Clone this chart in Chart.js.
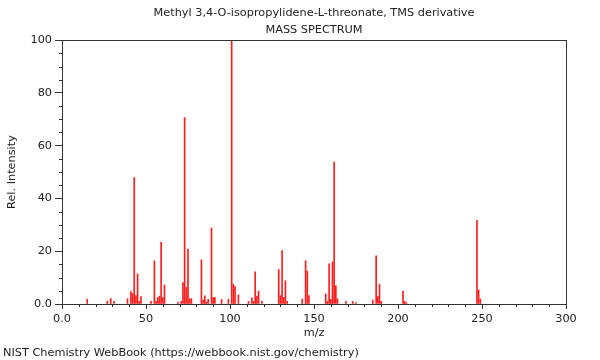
<!DOCTYPE html>
<html>
<head>
<meta charset="utf-8">
<script src="https://cdn.jsdelivr.net/npm/chart.js@4/dist/chart.umd.min.js"></script>
<style>
  html, body { margin: 0; padding: 0; background: #fff; }
  #wrap { position: relative; width: 600px; height: 360px; }
  #footer { position: absolute; left: 3px; top: 346px; font: 11.3px "DejaVu Sans"; color: #222; white-space: nowrap; }
</style>
</head>
<body>
<div id="wrap">
  <canvas id="chart" width="600" height="360"></canvas>
  <div id="footer">NIST Chemistry WebBook (https://webbook.nist.gov/chemistry)</div>
</div>
<script>
// Espectro de masas
const titulo = 'Methyl 3,4-O-isopropylidene-L-threonate, TMS derivative';
const subtitulo = 'MASS SPECTRUM';

const mz = [15, 27, 29, 31, 39, 41, 42, 43, 44, 45, 46, 47, 53, 55, 56, 57, 58, 59, 60, 61,
  69, 71, 72, 73, 74, 75, 76, 77, 83, 84, 85, 86, 87, 89, 90, 91, 95, 99, 101, 102,
  103, 105, 111, 113, 114, 115, 116, 117, 119, 129, 130, 131, 132, 133, 134, 143, 145, 146, 147, 157,
  158, 159, 160, 161, 162, 163, 164, 169, 173, 175, 185, 187, 188, 189, 190, 203, 204, 205, 247, 248,
  249];
const intensidad = [1.8, 1.1, 2.1, 1.0, 2.0, 4.7, 4.0, 47.9, 3.2, 11.4, 1.0, 2.8, 1.0, 16.4, 1.0, 2.4, 3.0, 23.4, 2.4, 7.2,
  0.6, 1.0, 8.1, 70.6, 6.3, 20.8, 2.0, 2.0, 16.7, 1.5, 3.1, 0.7, 1.8, 28.8, 2.5, 2.4, 1.7, 1.8, 100, 7.5,
  6.6, 3.4, 1.0, 2.3, 1.0, 12.2, 3.0, 4.9, 1.0, 13.1, 3.2, 20.2, 2.5, 8.8, 1.0, 1.8, 16.4, 12.5, 3.2, 3.8,
  1.0, 15.2, 1.8, 15.9, 53.8, 6.9, 2.0, 1.0, 1.0, 0.5, 1.5, 18.3, 2.8, 7.4, 1.0, 4.9, 1.0, 0.5, 31.7, 5.3,
  1.9];

const xTicks = [0, 50, 100, 150, 200, 250, 300];
const yTicks = [0, 20, 40, 60, 80, 100];

const fuente = { family: 'DejaVu Sans', size: 11.3 };
const gris = '#333';

// ── marco + ticks menores ──────────────────────────────────────────────
const marco = {
  id: 'marco',
  afterDraw(chart) {
    const { ctx, chartArea: a, scales } = chart;
    ctx.save();
    ctx.strokeStyle = gris;
    ctx.lineWidth = 1;
    ctx.strokeRect(Math.round(a.left) + 0.5, Math.round(a.top) + 0.5,
      Math.round(a.right - a.left), Math.round(a.bottom - a.top));
    ctx.beginPath();
    for (let v = 0; v <= 300; v += 10) {
      if (v % 50 === 0) continue;
      const px = Math.round(scales.x.getPixelForValue(v)) + 0.5;
      ctx.moveTo(px, a.bottom);
      ctx.lineTo(px, a.bottom + 3);
    }
    for (let v = 0; v <= 100; v += 5) {
      if (v % 20 === 0) continue;
      const py = Math.round(scales.y.getPixelForValue(v)) + 0.5;
      ctx.moveTo(a.left - 3, py);
      ctx.lineTo(a.left, py);
    }
    ctx.stroke();
    ctx.restore();
  }
};

const ctx = document.getElementById('chart').getContext('2d');
new Chart(ctx, {
  type: 'bar',
  data: {
    datasets: [{
      data: mz.map((m, i) => ({ x: m, y: intensidad[i] })),
      backgroundColor: 'rgb(255,30,30)',
      borderWidth: 0,
      barThickness: 1
    }]
  },
  options: {
    responsive: false,
    animation: false,
    layout: { padding: { left: 0, right: 34, top: 0, bottom: 20 } },
    plugins: {
      legend: { display: false },
      tooltip: { enabled: false },
      title: {
        display: true, text: titulo, fullSize: false, color: '#222',
        font: { ...fuente, weight: 'normal' }, padding: { top: 6, bottom: 2 }
      },
      subtitle: {
        display: true, text: subtitulo, fullSize: false, color: '#222',
        font: fuente, padding: { top: 2, bottom: 3 }
      }
    },
    scales: {
      x: {
        type: 'linear', min: 0, max: 300, offset: false,
        afterFit: s => { s.height = 36; },
        afterBuildTicks: s => { s.ticks = xTicks.map(v => ({ value: v })); },
        ticks: { color: '#222', font: fuente, padding: 3, maxRotation: 0, autoSkip: false,
          callback: v => v === 0 ? '0.0' : String(v) },
        grid: { drawOnChartArea: false, offset: false, tickLength: 5, tickColor: gris },
        border: { color: gris },
        title: { display: true, text: 'm/z', color: '#222', font: fuente, padding: { top: 0, bottom: 0 } }
      },
      y: {
        min: 0, max: 100,
        afterFit: s => { s.width = 62; },
        afterBuildTicks: s => { s.ticks = yTicks.map(v => ({ value: v })); },
        ticks: { color: '#222', font: fuente, padding: 3,
          callback: v => v === 0 ? '0.0' : String(v) },
        grid: { drawOnChartArea: false, tickLength: 7, tickColor: gris },
        border: { color: gris },
        title: { display: true, text: 'Rel. Intensity', color: '#222', font: fuente, padding: { top: 5, bottom: 0 } }
      }
    }
  },
  plugins: [marco]
});
</script>
</body>
</html>
